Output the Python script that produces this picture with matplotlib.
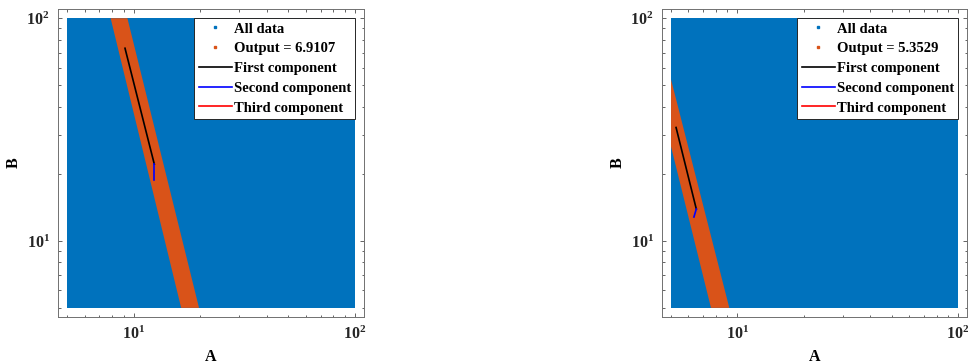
import matplotlib
matplotlib.use("Agg")
import matplotlib.pyplot as plt
from matplotlib.lines import Line2D

plt.rcParams['font.family'] = ['Liberation Serif', 'DejaVu Serif']
plt.rcParams['font.weight'] = 'bold'
plt.rcParams['mathtext.fontset'] = 'custom'
plt.rcParams['mathtext.rm'] = 'Liberation Serif:bold'
plt.rcParams['mathtext.it'] = 'Liberation Serif:bold'
plt.rcParams['mathtext.bf'] = 'Liberation Serif:bold'

BLUE = '#0072BD'
ORANGE = '#D95319'

# Data domain (all data grid covers this range)
A_range = [5, 100]
B_range = [5, 100]

# Panel 1: output band polygon (A, B), component lines
out1_label = 'Output = 6.9107'
band1_A = [7.87, 9.37, 19.75, 16.4]
band1_B = [100, 100, 5, 5]
first1_A = [9.14, 12.4]
first1_B = [73.3, 22.1]
second1_A = [12.4, 12.4]
second1_B = [22.1, 18.7]
third1_A = []
third1_B = []

# Panel 2
out2_label = 'Output = 5.3529'
band2_A = [5, 5, 9.19, 7.59]
band2_B = [26.5, 53.1, 5, 5]
first2_A = [5.27, 6.51]
first2_B = [32.3, 13.9]
second2_A = [6.51, 6.35]
second2_B = [13.9, 12.8]
third2_A = []
third2_B = []

panels = [
    (out1_label, band1_A, band1_B, first1_A, first1_B, second1_A, second1_B, third1_A, third1_B),
    (out2_label, band2_A, band2_B, first2_A, first2_B, second2_A, second2_B, third2_A, third2_B),
]

fig = plt.figure(figsize=(9.68, 3.63), dpi=100)
positions = [[58/968, 1-317/363, 306/968, 308/363],
             [662/968, 1-317/363, 305/968, 308/363]]

for pos, (lab, bA, bB, fA, fB, sA, sB, tA, tB) in zip(positions, panels):
    ax = fig.add_axes(pos)
    ax.set_xscale('log')
    ax.set_yscale('log')
    ax.fill([A_range[0], A_range[1], A_range[1], A_range[0]],
            [B_range[0], B_range[0], B_range[1], B_range[1]],
            color=BLUE, lw=0, zorder=1)
    ax.fill(bA, bB, color=ORANGE, lw=0, zorder=2)
    ax.plot(fA, fB, color='black', lw=1.2, zorder=3)
    ax.plot(sA, sB, color='blue', lw=1.2, zorder=3)
    ax.plot(tA, tB, color='red', lw=1.2, zorder=3)
    ax.set_xlim(4.55, 110)
    ax.set_ylim(4.55, 110)
    ax.set_xlabel('A', fontsize=11.5, fontweight='bold')
    ax.set_ylabel('B', fontsize=11.5, fontweight='bold')
    ax.xaxis.set_label_coords(0.5, -0.103)
    ax.yaxis.set_label_coords(-0.12, 0.5)
    ax.tick_params(which='both', direction='in', top=True, right=True,
                   labelsize=11.5, colors='#262626', width=0.5)
    ax.tick_params(which='major', length=3, pad=6)
    ax.tick_params(which='minor', length=1.8)
    for sp in ax.spines.values():
        sp.set_color('#707070')
        sp.set_linewidth(0.7)
    handles = [
        Line2D([], [], ls='none', marker='s', ms=2, color=BLUE),
        Line2D([], [], ls='none', marker='s', ms=2, color=ORANGE),
        Line2D([], [], color='black', lw=1.2),
        Line2D([], [], color='blue', lw=1.2),
        Line2D([], [], color='red', lw=1.2),
    ]
    labels = ['All data', lab, 'First component', 'Second component', 'Third component']
    leg = ax.legend(handles, labels, loc='upper right', bbox_to_anchor=(0.971, 0.971),
                    borderaxespad=0, fontsize=10.5, frameon=True, fancybox=False,
                    edgecolor='#262626', framealpha=1, handlelength=2.3,
                    handletextpad=0.1, labelspacing=0.45, borderpad=0.3)
    leg.get_frame().set_linewidth(0.7)

fig.savefig('out.png', dpi=100)
